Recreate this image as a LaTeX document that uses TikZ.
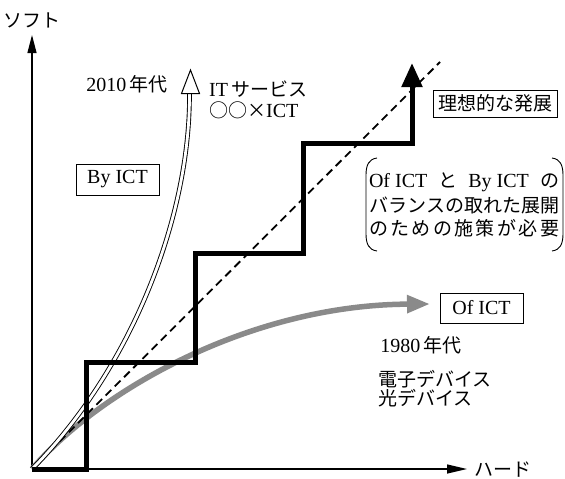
\documentclass[tikz,border=0pt]{standalone}
\usepackage{fontspec}
\setmainfont{Liberation Serif}
\newfontfamily\jpfont{Noto Sans CJK JP}
\usetikzlibrary{arrows.meta}
\newcommand{\jt}[1]{{\jpfont\fontsize{19}{23}\selectfont #1}}
\definecolor{curvegray}{RGB}{138,138,138}
\begin{document}
\begin{tikzpicture}[x=1pt,y=-1pt,
  lab/.style={inner sep=0pt, font=\fontsize{20}{23}\selectfont},
  boxed/.style={draw, line width=0.9pt, inner sep=0pt, font=\fontsize{20}{23}\selectfont},
  axis/.style={line width=1.2pt},
  stair/.style={line width=5pt, line join=miter},
  ideal/.style={line width=1.8pt, dash pattern=on 8pt off 5pt},
  bycurve/.style={line width=0.9pt, double=white, double distance=2.8pt},
  ofcurve/.style={curvegray, line width=5.5pt},
  bracket/.style={line width=0.9pt}
]
\useasboundingbox (0,0) rectangle (565,479);

% coordinates
\coordinate (O) at (32,469);
\coordinate (Ytip) at (32,35);
\coordinate (Xtip) at (467,469);
\coordinate (Dend) at (440,62);
\coordinate (Oend) at (430,304);
\coordinate (Bend) at (189.5,93.5);
\coordinate (Btip) at (190.5,70);
\coordinate (Bl) at (181.5,93.5);
\coordinate (Br) at (199.5,93.5);
\coordinate (S1) at (86,469);
\coordinate (S2) at (86,362);
\coordinate (S3) at (195,362);
\coordinate (S4) at (195,253);
\coordinate (S5) at (303,253);
\coordinate (S6) at (303,143);
\coordinate (S7) at (412,143);
\coordinate (S8) at (412,63);

% axes
\draw[axis, -{Triangle[length=18pt,width=9pt]}] (O) -- (Ytip);
\draw[axis, -{Triangle[length=20pt,width=9pt]}] (O) -- (Xtip);

% Of ICT curve (gray)
\draw[ofcurve, -{Triangle[length=23pt,width=17pt]}] (O) .. controls (100,390) and (250,305) .. (Oend);

% ideal dashed line
\draw[ideal] (O) -- (Dend);

% By ICT curve (double line, hollow head)
\draw[bycurve] (O) .. controls (130,370) and (190,220) .. (Bend);
\draw[line width=1pt, fill=white, line join=miter] (Btip) -- (Bl) -- (Br) -- cycle;

% staircase
\draw[stair, -{Triangle[length=24pt,width=20pt]}] (O) -- (S1) -- (S2) -- (S3) -- (S4) -- (S5) -- (S6) -- (S7) -- (S8);

% labels
\node[lab] (soft) at (32,20) {\jt{ソフト}};
\node[lab] (hard) at (503,470) {\jt{ハード}};
\node[lab] (y2010) at (127,84) {2010\,\jt{年代}};
\node[lab, anchor=west] (its) at (209,89) {IT\,\jt{サービス}};
\node[lab, anchor=west] (oox) at (209,110) {\jt{○○×}ICT};
\node[boxed, minimum width=83pt, minimum height=31pt] (byict) at (117.5,179.5) {By ICT};
\node[boxed, minimum width=124pt, minimum height=27pt] (idealbox) at (495,103.5) {\jt{理想的な発展}};
\node[boxed, minimum width=83pt, minimum height=30pt] (ofict) at (481.5,308) {Of ICT};
\node[lab] (y1980) at (421,345) {1980\,\jt{年代}};
\node[lab, anchor=west] (dev1) at (378,379) {\jt{電子デバイス}};
\node[lab, anchor=west] (dev2) at (378,398.5) {\jt{光デバイス}};

% balance note
\node[lab] (bal1) at (464,182) {\makebox[190pt][s]{Of ICT\hfill\jt{と}\hfill By ICT\hfill\jt{の}}};
\node[lab] (bal2) at (464,205) {\makebox[190pt][s]{\jt{バ\hfill ラ\hfill ン\hfill ス\hfill の\hfill 取\hfill れ\hfill た\hfill 展\hfill 開}}};
\node[lab] (bal3) at (464,228) {\makebox[190pt][s]{\jt{の\hfill た\hfill め\hfill の\hfill 施\hfill 策\hfill が\hfill 必\hfill 要}}};
\draw[bracket] (377,158) .. controls (369,159) and (366,165) .. (366,175) -- (366,234) .. controls (366,244) and (369,250) .. (377,251);
\draw[bracket] (552,158) .. controls (560,159) and (563,165) .. (563,175) -- (563,234) .. controls (563,244) and (560,250) .. (552,251);
\end{tikzpicture}
\end{document}
